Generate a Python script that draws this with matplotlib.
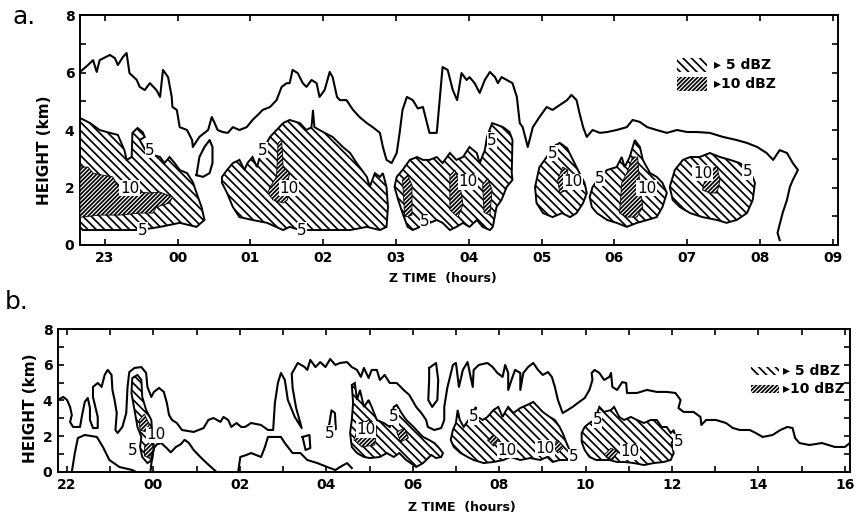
"""Radar echo time-height sections (two panels) with >5 and >10 dBZ shading."""

import matplotlib
matplotlib.use("Agg")
import matplotlib.pyplot as plt
from matplotlib.patches import Rectangle

plt.rcParams["font.family"] = ["DejaVu Sans"]
plt.rcParams["hatch.linewidth"] = 1.25

# ---------------- panel a (hours after 00 Z of day 1; 24 = 00 Z) ----------------
a_xticks = list(range(23, 34))
a_xticklabels = ["23", "00", "01", "02", "03", "04", "05", "06", "07", "08", "09"]

# echo boundary (minimum detectable)
a_outline = [
    (22.66, 6.02), (22.77, 6.26), (22.84, 6.43), (22.89, 6.02), (22.93, 6.43), (23.07, 6.61),
    (23.14, 6.50), (23.18, 6.26), (23.25, 6.54), (23.30, 6.68), (23.34, 5.98), (23.44, 5.74),
    (23.48, 5.50), (23.55, 5.39), (23.62, 5.63), (23.71, 5.39), (23.76, 5.15), (23.80, 6.09),
    (23.87, 5.84), (23.92, 5.15), (23.93, 4.80), (23.99, 4.70), (24.03, 4.10), (24.13, 4.00),
    (24.20, 3.65), (24.21, 3.41), (24.30, 3.76), (24.37, 3.90), (24.42, 4.00), (24.47, 4.45),
    (24.51, 4.24), (24.55, 4.00), (24.62, 3.93), (24.69, 3.90), (24.76, 4.10), (24.85, 4.00),
    (24.95, 4.10), (25.03, 4.35), (25.10, 4.52), (25.17, 4.70), (25.27, 4.80), (25.36, 5.04),
    (25.43, 5.50), (25.50, 5.63), (25.54, 5.63), (25.58, 6.09), (25.65, 5.98), (25.72, 5.63),
    (25.77, 5.50), (25.84, 5.74), (25.91, 5.63), (25.95, 5.15), (26.02, 5.39), (26.09, 6.02),
    (26.13, 5.84), (26.19, 5.15), (26.23, 5.04), (26.32, 5.04), (26.41, 4.70), (26.50, 4.45),
    (26.60, 4.24), (26.68, 4.10), (26.78, 3.90), (26.82, 3.41), (26.87, 2.96), (26.94, 2.85),
    (27.01, 3.20), (27.05, 3.90), (27.09, 4.70), (27.15, 5.15), (27.23, 5.04), (27.30, 4.75),
    (27.37, 4.80), (27.42, 4.30), (27.46, 3.90), (27.56, 3.90), (27.64, 6.19), (27.71, 6.09),
    (27.78, 5.39), (27.84, 5.04), (27.90, 5.98), (27.97, 5.74), (28.01, 5.84), (28.08, 5.63),
    (28.15, 5.29), (28.22, 5.74), (28.29, 6.02), (28.36, 5.84), (28.40, 5.63), (28.45, 5.84),
    (28.52, 5.74), (28.60, 5.63), (28.66, 5.15), (28.70, 4.24), (28.74, 4.10), (28.81, 3.41),
    (28.88, 4.10), (28.97, 4.45), (29.07, 4.80), (29.15, 4.70), (29.25, 4.87), (29.35, 5.04),
    (29.41, 5.22), (29.48, 5.04), (29.52, 4.59), (29.57, 4.10), (29.62, 3.76), (29.70, 4.00),
    (29.80, 3.90), (29.90, 3.93), (30.03, 4.00), (30.17, 4.10), (30.25, 4.35), (30.35, 4.28),
    (30.45, 4.10), (30.58, 4.00), (30.72, 3.90), (30.86, 4.00), (31.00, 3.93), (31.13, 3.93),
    (31.31, 3.90), (31.49, 3.76), (31.68, 3.65), (31.82, 3.55), (31.96, 3.41), (32.09, 3.20),
    (32.18, 2.96), (32.27, 3.30), (32.37, 3.20), (32.45, 2.85), (32.52, 2.61), (32.45, 2.26),
    (32.41, 2.02), (32.37, 1.57), (32.31, 1.11), (32.24, 0.42), (32.27, 0.17),
]
a_loops = [
    [(24.26, 2.43), (24.30, 3.06), (24.37, 3.41), (24.44, 3.65), (24.48, 3.41), (24.48, 2.85),
     (24.44, 2.50), (24.35, 2.37), (24.26, 2.43)],
]

a_cells_5 = [
    [(22.66, 4.42), (22.80, 4.24), (22.93, 4.00), (23.07, 3.90), (23.18, 3.83), (23.27, 3.30),
     (23.30, 2.96), (23.37, 3.06), (23.38, 3.90), (23.45, 4.07), (23.52, 3.93), (23.55, 3.76),
     (23.48, 3.65), (23.58, 3.20), (23.76, 3.06), (23.82, 2.85), (23.89, 3.06), (23.96, 2.85),
     (24.03, 2.61), (24.13, 2.50), (24.21, 2.19), (24.28, 1.67), (24.33, 1.32), (24.37, 0.87),
     (24.26, 0.63), (24.03, 0.77), (23.76, 0.63), (23.48, 0.52), (23.21, 0.52), (22.93, 0.52),
     (22.70, 0.52), (22.66, 0.63)],
    [(24.61, 2.37), (24.68, 2.61), (24.76, 2.85), (24.85, 2.96), (24.92, 2.61), (24.96, 2.85),
     (25.03, 3.06), (25.09, 2.71), (25.13, 3.06), (25.17, 3.30), (25.27, 3.76), (25.36, 4.00),
     (25.45, 4.24), (25.54, 4.35), (25.68, 4.24), (25.77, 4.00), (25.84, 4.10), (25.86, 4.70),
     (25.88, 4.10), (25.95, 4.00), (26.02, 3.90), (26.13, 3.76), (26.27, 3.41), (26.37, 3.20),
     (26.46, 2.85), (26.53, 2.61), (26.60, 2.37), (26.64, 2.02), (26.71, 2.50), (26.78, 2.37),
     (26.82, 2.50), (26.87, 2.02), (26.89, 1.32), (26.87, 0.63), (26.78, 0.52), (26.60, 0.63),
     (26.37, 0.52), (26.13, 0.52), (25.91, 0.52), (25.68, 0.52), (25.54, 0.63), (25.45, 0.52),
     (25.23, 0.77), (25.03, 0.87), (24.85, 0.97), (24.76, 1.32), (24.68, 1.81), (24.61, 2.16)],
    [(26.98, 2.02), (27.01, 2.37), (27.09, 2.61), (27.19, 2.96), (27.29, 3.06), (27.37, 2.96),
     (27.46, 2.96), (27.56, 3.06), (27.64, 2.85), (27.74, 3.20), (27.83, 2.96), (27.92, 3.06),
     (28.01, 3.41), (28.11, 3.20), (28.15, 2.85), (28.22, 3.30), (28.25, 3.76), (28.32, 4.24),
     (28.40, 4.17), (28.47, 4.10), (28.56, 3.93), (28.60, 3.65), (28.59, 2.50), (28.60, 2.26),
     (28.52, 2.02), (28.45, 1.57), (28.38, 1.32), (28.33, 0.63), (28.29, 0.52), (28.19, 0.63),
     (28.11, 0.87), (28.01, 0.63), (27.92, 0.77), (27.83, 0.63), (27.74, 0.52), (27.64, 0.77),
     (27.56, 0.87), (27.33, 0.63), (27.23, 0.52), (27.16, 0.63), (27.09, 1.11), (27.03, 1.57)],
    [(28.91, 2.02), (28.97, 2.71), (29.07, 3.06), (29.15, 3.41), (29.25, 3.55), (29.35, 3.37),
     (29.43, 2.96), (29.52, 2.50), (29.59, 2.16), (29.62, 1.81), (29.57, 1.46), (29.48, 1.11),
     (29.39, 0.97), (29.28, 1.11), (29.15, 0.97), (29.02, 1.11), (28.93, 1.46)],
    [(29.66, 1.67), (29.70, 2.02), (29.80, 2.37), (29.90, 2.61), (30.03, 2.71), (30.10, 3.06),
     (30.14, 2.71), (30.21, 3.06), (30.28, 3.65), (30.35, 3.41), (30.39, 2.96), (30.49, 2.50),
     (30.58, 2.37), (30.66, 2.16), (30.72, 1.81), (30.66, 1.32), (30.58, 0.97), (30.45, 0.87),
     (30.31, 0.77), (30.17, 0.63), (30.03, 0.77), (29.90, 0.87), (29.76, 1.11), (29.69, 1.32)],
    [(30.76, 2.02), (30.83, 2.61), (30.94, 2.96), (31.04, 3.06), (31.17, 3.06), (31.31, 3.20),
     (31.45, 3.06), (31.59, 2.96), (31.72, 2.85), (31.86, 2.61), (31.93, 2.16), (31.90, 1.57),
     (31.82, 1.11), (31.68, 0.87), (31.54, 0.77), (31.41, 0.87), (31.21, 0.97), (31.04, 1.11),
     (30.90, 1.32), (30.80, 1.57)],
]

a_cells_10 = [
    [(22.66, 2.71), (22.77, 2.71), (22.84, 2.50), (22.97, 2.43), (23.11, 2.37), (23.17, 2.09),
     (23.21, 2.02), (23.30, 1.81), (23.44, 1.84), (23.62, 1.81), (23.76, 1.84), (23.93, 1.67),
     (23.89, 1.46), (23.71, 1.32), (23.66, 1.11), (23.48, 1.11), (23.21, 1.04), (22.93, 1.04),
     (22.68, 0.97), (22.66, 0.97)],
    [(25.27, 2.02), (25.36, 2.37), (25.38, 3.55), (25.43, 3.65), (25.45, 2.71), (25.54, 2.50),
     (25.50, 2.02), (25.51, 1.57), (25.45, 1.46), (25.31, 1.57), (25.24, 1.81)],
    [(27.09, 2.26), (27.16, 2.43), (27.22, 2.09), (27.22, 1.04), (27.12, 0.97)],
    [(27.74, 2.43), (27.81, 2.61), (27.88, 2.09), (27.92, 1.39), (27.85, 0.97), (27.74, 1.22)],
    [(28.19, 2.09), (28.26, 2.33), (28.32, 1.91), (28.29, 1.04), (28.21, 1.13)],
    [(29.22, 2.26), (29.29, 2.71), (29.36, 2.61), (29.35, 1.91), (29.25, 1.81)],
    [(30.07, 1.11), (30.10, 2.16), (30.17, 2.50), (30.25, 3.06), (30.32, 3.06), (30.35, 2.02),
     (30.39, 1.32), (30.31, 0.97), (30.17, 0.97)],
    [(31.21, 1.91), (31.27, 2.61), (31.41, 2.71), (31.45, 2.26), (31.41, 1.81), (31.31, 1.81)],
]

a_labels = [
    ("5", 23.62, 3.30), ("10", 23.34, 1.98), ("5", 23.52, 0.52),
    ("5", 25.17, 3.30), ("10", 25.53, 1.98), ("5", 25.71, 0.52),
    ("5", 27.40, 0.80), ("10", 27.99, 2.20), ("5", 28.32, 3.65),
    ("5", 29.15, 3.20), ("10", 29.43, 2.20), ("5", 29.80, 2.33),
    ("10", 30.44, 1.98), ("10", 31.21, 2.50), ("5", 31.83, 2.54),
]

# ---------------- panel b ----------------
b_xticks = list(range(22, 41))
b_xticklabels = ["22", "", "00", "", "02", "", "04", "", "06", "", "08", "", "10", "",
                 "12", "", "14", "", "16"]

b_outline = [
    (21.79, 4.03), (21.91, 4.20), (22.00, 4.03), (22.07, 3.64), (22.11, 3.19), (22.07, 2.80),
    (22.14, 2.52), (22.30, 2.52), (22.34, 3.08), (22.41, 3.92), (22.48, 4.14), (22.53, 3.58),
    (22.53, 2.91), (22.60, 2.46), (22.71, 2.46), (22.71, 3.08), (22.60, 4.20), (22.60, 4.76),
    (22.71, 4.98), (22.80, 4.76), (22.87, 5.43), (22.94, 5.71), (23.03, 5.43), (23.05, 4.59),
    (23.10, 4.03), (23.15, 3.30), (23.12, 2.35), (23.17, 2.18), (23.28, 2.52), (23.37, 3.30),
    (23.40, 4.76), (23.44, 5.59), (23.56, 5.82), (23.72, 5.87), (23.83, 5.54), (23.86, 4.76),
    (23.95, 4.20), (24.01, 4.48), (24.13, 4.70), (24.24, 4.48), (24.31, 3.86), (24.36, 3.19),
    (24.43, 2.91), (24.54, 2.74), (24.66, 2.35), (24.93, 2.24), (25.16, 2.46), (25.27, 2.91),
    (25.39, 3.02), (25.55, 2.80), (25.62, 3.08), (25.73, 2.91), (25.80, 2.52), (25.92, 2.74),
    (26.03, 2.52), (26.12, 2.52), (26.26, 2.74), (26.49, 2.63), (26.65, 2.35), (26.77, 2.35),
    (26.81, 3.86), (26.88, 4.98), (26.95, 5.54), (27.04, 5.15), (27.11, 4.03), (27.27, 3.08),
    (27.43, 2.46), (27.30, 3.60), (27.22, 4.70), (27.20, 5.50), (27.34, 6.10), (27.50, 5.87),
    (27.56, 5.71), (27.63, 6.27), (27.75, 5.87), (27.86, 6.15), (27.98, 5.87), (28.09, 6.32),
    (28.21, 5.99), (28.32, 6.10), (28.48, 6.15), (28.59, 5.87), (28.71, 5.71), (28.80, 5.32),
    (28.87, 5.82), (28.98, 5.26), (29.05, 5.71), (29.17, 5.71), (29.24, 5.15), (29.35, 5.43),
    (29.47, 4.98), (29.63, 4.98), (29.79, 4.59), (29.92, 4.31), (30.08, 3.64), (30.20, 3.30),
    (30.31, 2.91), (30.35, 2.52), (30.50, 2.35), (30.66, 2.46), (30.73, 2.91), (30.73, 3.64),
    (30.80, 4.70), (30.93, 5.99), (31.00, 6.10), (31.07, 4.76), (31.16, 5.71), (31.27, 6.15),
    (31.34, 5.32), (31.39, 4.76), (31.41, 5.71), (31.53, 5.99), (31.73, 6.10), (31.85, 5.87),
    (31.96, 5.54), (32.08, 5.32), (32.14, 5.99), (32.21, 5.54), (32.21, 4.59), (32.31, 5.32),
    (32.37, 5.71), (32.49, 5.54), (32.49, 4.59), (32.56, 5.54), (32.67, 5.87), (32.79, 6.10),
    (32.90, 5.71), (33.01, 5.43), (33.13, 5.59), (33.22, 5.32), (33.29, 4.76), (33.36, 4.03),
    (33.47, 3.30), (33.59, 3.47), (33.70, 3.64), (33.82, 3.86), (33.98, 4.14), (34.09, 4.59),
    (34.16, 5.15), (34.14, 5.54), (34.21, 5.71), (34.32, 5.54), (34.43, 5.15), (34.55, 5.32),
    (34.59, 5.54), (34.62, 4.76), (34.73, 4.59), (34.85, 5.03), (34.94, 4.98), (34.96, 4.42),
    (35.19, 4.42), (35.42, 4.59), (35.65, 4.48), (35.88, 4.48), (36.08, 4.42), (36.20, 4.03),
    (36.15, 3.58), (36.27, 3.36), (36.50, 3.36), (36.66, 3.08), (36.68, 2.63), (36.79, 2.91),
    (37.02, 2.91), (37.25, 2.74), (37.41, 2.46), (37.57, 2.35), (37.80, 2.35), (37.94, 2.18),
    (38.10, 1.96), (38.33, 2.07), (38.51, 2.35), (38.67, 2.52), (38.79, 2.46), (38.85, 1.90),
    (38.95, 1.62), (39.18, 1.51), (39.47, 1.62), (39.77, 1.40), (40.00, 1.40), (40.12, 1.62),
]
b_lower_lines = [
    [(22.11, 0.00), (22.18, 1.06), (22.25, 1.90), (22.41, 2.07), (22.69, 1.96), (22.83, 1.40),
     (22.98, 0.67), (23.21, 0.28), (23.51, 0.11), (23.60, 0.00)],
    [(23.93, 0.00), (23.97, 0.90), (24.01, 1.34), (24.08, 1.55), (24.18, 1.62), (24.30, 1.35),
     (24.40, 1.10), (24.52, 1.40), (24.63, 1.55), (24.72, 1.80), (24.82, 1.62), (24.93, 1.23),
     (25.08, 0.85), (25.23, 0.50), (25.46, 0.00)],
    [(25.96, 0.00), (26.01, 0.84), (26.15, 0.95), (26.26, 1.06), (26.49, 0.84), (26.58, 1.40),
     (26.65, 1.96), (26.72, 1.96), (26.95, 1.96), (27.04, 1.62), (27.11, 1.40), (27.22, 1.06),
     (27.40, 1.06), (27.56, 0.67), (27.79, 0.50), (28.02, 0.28), (28.21, 0.11), (28.32, 0.28),
     (28.48, 0.50), (28.59, 0.22)],
]
b_loops = [
    [(27.45, 1.96), (27.61, 2.07), (27.63, 1.34), (27.52, 1.23), (27.45, 1.96)],
    [(28.05, 2.40), (28.12, 3.45), (28.20, 3.30), (28.22, 2.40), (28.12, 2.30), (28.05, 2.40)],
    [(30.38, 5.82), (30.54, 6.10), (30.59, 5.15), (30.57, 4.03), (30.45, 3.64), (30.36, 4.03),
     (30.38, 5.15), (30.38, 5.82)],
]

b_cells_5 = [
    [(23.51, 5.26), (23.63, 5.43), (23.72, 5.15), (23.74, 4.20), (23.83, 3.47), (23.95, 2.91),
     (23.97, 2.18), (24.01, 1.40), (23.97, 0.67), (23.86, 0.50), (23.74, 0.84), (23.69, 1.40),
     (23.72, 1.96), (23.63, 2.52), (23.56, 3.47), (23.49, 4.42)],
    [(28.59, 4.87), (28.66, 4.98), (28.71, 4.03), (28.78, 4.59), (28.87, 3.64), (28.98, 4.03),
     (29.05, 3.64), (29.17, 2.91), (29.33, 2.74), (29.47, 2.52), (29.56, 3.64), (29.63, 3.75),
     (29.74, 3.30), (29.85, 2.91), (30.02, 2.52), (30.15, 2.18), (30.24, 1.96), (30.38, 1.79),
     (30.50, 1.62), (30.61, 1.34), (30.70, 1.06), (30.66, 0.84), (30.54, 0.78), (30.43, 0.95),
     (30.24, 0.50), (30.08, 0.28), (29.85, 0.67), (29.69, 1.06), (29.56, 0.84), (29.40, 1.06),
     (29.24, 0.84), (29.01, 0.78), (28.87, 0.84), (28.71, 1.06), (28.59, 1.40), (28.55, 2.18),
     (28.59, 2.91), (28.62, 3.86)],
    [(30.93, 2.35), (31.00, 2.74), (31.04, 3.47), (31.09, 2.91), (31.18, 2.52), (31.34, 3.08),
     (31.46, 3.64), (31.50, 3.08), (31.62, 2.91), (31.73, 3.08), (31.87, 3.47), (31.98, 3.64),
     (32.08, 3.08), (32.14, 3.36), (32.21, 3.64), (32.33, 3.30), (32.49, 3.58), (32.65, 3.75),
     (32.79, 3.92), (32.90, 3.64), (33.01, 3.36), (33.17, 3.08), (33.29, 2.91), (33.40, 2.52),
     (33.47, 2.18), (33.56, 1.62), (33.63, 1.23), (33.70, 0.84), (33.59, 0.67), (33.40, 0.67),
     (33.24, 0.56), (33.11, 0.84), (32.95, 0.67), (32.72, 0.78), (32.49, 0.67), (32.26, 0.84),
     (32.10, 0.67), (31.87, 0.56), (31.64, 0.50), (31.41, 0.67), (31.27, 0.84), (31.11, 1.06),
     (30.95, 1.40), (30.88, 1.79)],
    [(33.91, 2.18), (33.98, 2.52), (34.09, 2.74), (34.21, 2.91), (34.32, 3.64), (34.43, 3.36),
     (34.59, 3.47), (34.66, 3.64), (34.78, 3.08), (34.89, 2.91), (35.05, 3.08), (35.19, 2.91),
     (35.35, 2.74), (35.51, 2.91), (35.65, 2.91), (35.76, 2.52), (35.88, 2.52), (35.97, 2.18),
     (36.04, 2.35), (36.08, 1.96), (35.99, 1.62), (36.04, 1.06), (35.97, 0.67), (35.81, 0.56),
     (35.58, 0.50), (35.35, 0.39), (35.12, 0.50), (34.89, 0.56), (34.73, 0.56), (34.55, 0.67),
     (34.25, 0.67), (34.09, 0.84), (33.98, 1.23), (33.91, 1.68)],
]
b_cells_10 = [
    [(23.67, 2.91), (23.79, 3.24), (23.90, 2.69), (23.83, 2.24), (23.69, 2.35)],
    [(23.79, 1.40), (23.95, 1.79), (24.01, 1.23), (23.90, 0.78), (23.79, 0.90)],
    [(28.64, 1.79), (28.75, 2.63), (28.98, 2.91), (29.17, 2.46), (29.12, 1.51), (28.82, 1.40)],
    [(29.63, 2.24), (29.81, 2.46), (29.90, 1.90), (29.72, 1.68)],
    [(31.73, 1.79), (31.87, 2.07), (32.01, 1.79), (31.87, 1.45)],
    [(33.22, 1.51), (33.36, 1.79), (33.50, 1.40), (33.36, 1.06)],
    [(34.43, 0.95), (34.59, 1.34), (34.75, 1.12), (34.62, 0.67)],
]
b_labels = [
    ("10", 24.05, 2.07), ("5", 23.51, 1.23),
    ("5", 28.07, 2.18), ("10", 28.92, 2.35), ("5", 29.56, 3.08),
    ("5", 31.41, 3.08), ("10", 32.19, 1.23), ("10", 33.06, 1.34), ("5", 33.72, 0.84),
    ("5", 34.27, 2.91), ("10", 35.03, 1.12), ("5", 36.15, 1.68),
]

HATCH_5 = "\\\\\\\\"
HATCH_10 = "////////"


def draw_panel(ax, outline, loops, cells5, cells10, labels, xticks, xticklabels, xlim):
    for cell in cells5:
        t, h = zip(*cell)
        ax.fill(t, h, facecolor="white", edgecolor="black", hatch=HATCH_5, lw=1.4, zorder=2)
    for cell in cells10:
        t, h = zip(*cell)
        ax.fill(t, h, facecolor="white", edgecolor="black", hatch=HATCH_10, lw=0.6, zorder=3)
    for line in [outline] + loops:
        t, h = zip(*line)
        ax.plot(t, h, color="black", lw=1.5, zorder=4)
    for txt, t, h in labels:
        ax.text(t, h, txt, fontsize=11, ha="center", va="center", zorder=5,
                bbox=dict(facecolor="white", edgecolor="none", pad=0.3))

    ax.set_xlim(*xlim)
    ax.set_ylim(0, 8)
    ax.set_xticks(xticks)
    ax.set_xticklabels(xticklabels, fontweight="bold", fontsize=10)
    ax.set_yticks(range(0, 9))
    ax.set_yticklabels(["0", "", "2", "", "4", "", "6", "", "8"], fontweight="bold", fontsize=10)
    ax.tick_params(direction="in", top=True, right=True, length=4, width=1.2, pad=4)
    for sp in ax.spines.values():
        sp.set_linewidth(1.4)


def draw_legend(ax, x0, x1, y5, y10, tx):
    h = 0.06
    for (y, hatch, label) in [(y5, HATCH_5, "\u25b8 5 dBZ"), (y10, HATCH_10, "\u25b810 dBZ")]:
        ax.add_patch(Rectangle((x0, y - h / 2), x1 - x0, h, transform=ax.transAxes,
                               facecolor="white", edgecolor="black", hatch=hatch, lw=0))
        ax.text(tx, y, label, transform=ax.transAxes, fontsize=10, fontweight="bold",
                va="center", ha="left")


fig = plt.figure(figsize=(8.59, 5.16), dpi=100)
ax_a = fig.add_axes([0.0931, 0.5252, 0.8824, 0.4457])
ax_b = fig.add_axes([0.0675, 0.0853, 0.9220, 0.2771])

draw_panel(ax_a, a_outline, a_loops, a_cells_5, a_cells_10, a_labels,
           a_xticks, a_xticklabels, (22.66, 33.07))
draw_panel(ax_b, b_outline, b_loops + b_lower_lines, b_cells_5, b_cells_10, b_labels,
           b_xticks, b_xticklabels, (21.79, 40.12))

draw_legend(ax_a, 0.788, 0.827, 0.782, 0.700, 0.836)
draw_legend(ax_b, 0.875, 0.910, 0.706, 0.580, 0.915)

fig.text(0.028, 0.968, "a.", fontsize=18, ha="center", va="center")
fig.text(0.020, 0.415, "b.", fontsize=18, ha="center", va="center")
fig.text(0.515, 0.461, "Z TIME  (hours)", fontsize=9, fontweight="bold", ha="center", va="center")
fig.text(0.538, 0.017, "Z TIME  (hours)", fontsize=9, fontweight="bold", ha="center", va="center")
fig.text(0.052, 0.709, "HEIGHT (km)", fontsize=11, fontweight="bold", rotation=90,
         ha="center", va="center")
fig.text(0.035, 0.209, "HEIGHT (km)", fontsize=11, fontweight="bold", rotation=90,
         ha="center", va="center")

fig.savefig("out.png", dpi=100, facecolor="white")
